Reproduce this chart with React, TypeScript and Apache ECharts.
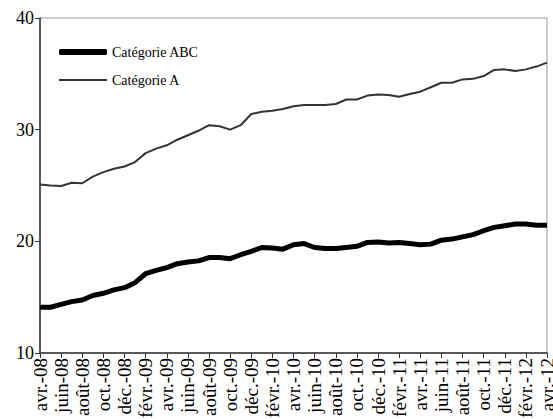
import React, { useEffect, useRef } from "react";
import * as echarts from "echarts";

const categories = [
  "avr.-08", "mai-08", "juin-08", "juil.-08", "août-08", "sept.-08", "oct.-08", "nov.-08", "déc.-08",
  "janv.-09", "févr.-09", "mars-09", "avr.-09", "mai-09", "juin-09", "juil.-09", "août-09", "sept.-09", "oct.-09", "nov.-09", "déc.-09",
  "janv.-10", "févr.-10", "mars-10", "avr.-10", "mai-10", "juin-10", "juil.-10", "août-10", "sept.-10", "oct.-10", "nov.-10", "déc.-10",
  "janv.-11", "févr.-11", "mars-11", "avr.-11", "mai-11", "juin-11", "juil.-11", "août-11", "sept.-11", "oct.-11", "nov.-11", "déc.-11",
  "janv.-12", "févr.-12", "mars-12", "avr.-12",
];

const categorieABC = [
  14.1, 14.1, 14.35, 14.6, 14.75, 15.15, 15.35, 15.65, 15.85,
  16.3, 17.1, 17.4, 17.65, 18.0, 18.15, 18.25, 18.55, 18.55, 18.45, 18.8, 19.1,
  19.45, 19.4, 19.3, 19.7, 19.8, 19.45, 19.35, 19.35, 19.45, 19.55, 19.9, 19.95,
  19.85, 19.9, 19.8, 19.7, 19.75, 20.1, 20.2, 20.4, 20.6, 20.95, 21.25, 21.4,
  21.55, 21.55, 21.45, 21.45,
];

const categorieA = [
  25.1, 25.0, 24.95, 25.25, 25.2, 25.8, 26.2, 26.5, 26.7,
  27.1, 27.9, 28.3, 28.6, 29.1, 29.5, 29.9, 30.4, 30.3, 30.0, 30.4, 31.4,
  31.6, 31.7, 31.85, 32.1, 32.2, 32.2, 32.2, 32.3, 32.7, 32.7, 33.05, 33.15,
  33.1, 32.95, 33.2, 33.4, 33.8, 34.2, 34.2, 34.5, 34.55, 34.8, 35.35, 35.4,
  35.25, 35.4, 35.65, 36.0,
];

const yTicks = { min: 10, max: 40, interval: 10 };

const FONT = "Liberation Serif";

export default function App() {
  const ref = useRef<HTMLDivElement>(null);
  useEffect(() => {
    if (!ref.current) return;
    const chart = echarts.init(ref.current, undefined, { renderer: "svg" });
    chart.setOption({
      animation: false,
      backgroundColor: "#ffffff",
      textStyle: { fontFamily: FONT },
      grid: {
        left: 40,
        right: 6,
        top: 18,
        bottom: 66,
        show: true,
        borderColor: "#999999",
        borderWidth: 1,
        containLabel: false,
        outerBoundsMode: "none",
      },
      legend: [
        {
          orient: "vertical",
          left: 59,
          top: 45,
          padding: 0,
          itemWidth: 48,
          itemHeight: 6,
          icon: "roundRect",
          textStyle: { fontFamily: FONT, fontSize: 14, color: "#000" },
          data: [{ name: "Catégorie ABC", icon: "roundRect", itemStyle: { color: "#000" } }],
        },
        {
          orient: "vertical",
          left: 59,
          top: 73,
          padding: 0,
          itemWidth: 48,
          itemHeight: 2,
          icon: "rect",
          textStyle: { fontFamily: FONT, fontSize: 14, color: "#000" },
          data: [{ name: "Catégorie A", icon: "rect", itemStyle: { color: "#333" } }],
        },
      ],
      xAxis: {
        type: "category",
        data: categories,
        boundaryGap: false,
        axisLine: { lineStyle: { color: "#333", width: 1.5 } },
        axisTick: { interval: 1, length: 5, lineStyle: { color: "#333" } },
        axisLabel: {
          interval: 1,
          rotate: 90,
          fontFamily: FONT,
          fontSize: 19,
          color: "#000",
          margin: 5,
        },
        splitLine: { show: false },
      },
      yAxis: {
        type: "value",
        min: yTicks.min,
        max: yTicks.max,
        interval: yTicks.interval,
        axisLine: { show: true, lineStyle: { color: "#333", width: 1.5 } },
        axisTick: { show: true, length: 5, lineStyle: { color: "#333" } },
        axisLabel: { fontFamily: FONT, fontSize: 18, color: "#000", margin: 6 },
        splitLine: { show: false },
      },
      series: [
        {
          name: "Catégorie ABC",
          type: "line",
          data: categorieABC,
          symbol: "none",
          lineStyle: { color: "#000", width: 5 },
          itemStyle: { color: "#000" },
        },
        {
          name: "Catégorie A",
          type: "line",
          data: categorieA,
          symbol: "none",
          lineStyle: { color: "#333", width: 2 },
          itemStyle: { color: "#333" },
        },
      ],
    });
    return () => chart.dispose();
  }, []);
  return (
    <div
      ref={ref}
      style={{ position: "fixed", left: 0, top: 0, width: 553, height: 419 }}
    />
  );
}
